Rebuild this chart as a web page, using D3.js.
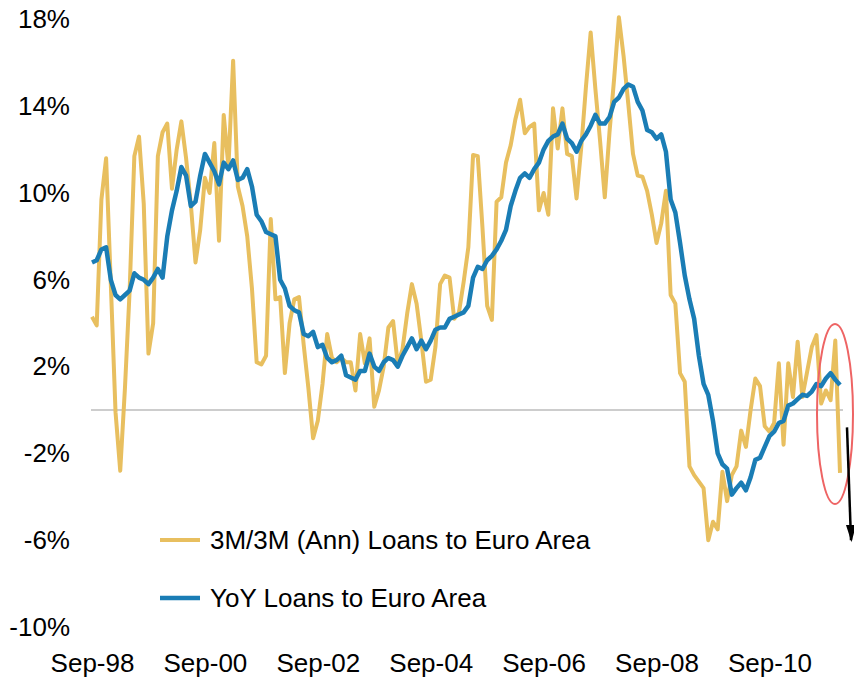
<!DOCTYPE html>
<html>
<head>
<meta charset="utf-8">
<script src="https://cdn.jsdelivr.net/npm/d3@7"></script>
<style>
  html, body { margin: 0; padding: 0; background: #fff; }
  svg { display: block; font-family: "Liberation Sans", Arial, sans-serif; }
</style>
</head>
<body>
<svg id="chart" width="854" height="681"></svg>
<script>
// monthly categories, Sep-98 .. Dec-11
const months = d3.timeMonth.range(new Date(1998, 8, 1), new Date(2012, 0, 1));

// YoY loans to euro area (%)
const yoy = [
  6.8, 6.9, 7.4, 7.5, 6.0, 5.3, 5.1, 5.3, 5.5, 6.3,
  6.1, 6.0, 5.8, 6.1, 6.5, 6.1, 8.0, 9.2, 10.1, 11.2,
  10.8, 9.4, 9.6, 10.8, 11.8, 11.4, 11.0, 10.4, 11.4, 11.1,
  11.5, 10.6, 10.7, 11.1, 10.3, 9.0, 8.7, 8.2, 8.1, 8.0,
  6.0, 5.6, 4.8, 4.6, 4.5, 3.5, 3.4, 3.6, 2.9, 3.0,
  2.4, 2.2, 2.3, 2.5, 1.6, 1.5, 1.4, 1.8, 1.8, 2.6,
  2.0, 1.8, 2.2, 2.4, 2.3, 2.0, 2.5, 2.9, 3.3, 2.8,
  3.2, 2.8, 3.2, 3.7, 3.8, 3.8, 4.2, 4.3, 4.4, 4.5,
  4.8, 6.1, 6.6, 6.5, 6.9, 7.1, 7.4, 7.8, 8.3, 9.4,
  10.1, 10.7, 10.9, 10.7, 11.1, 11.4, 12.0, 12.4, 12.6, 12.7,
  13.2, 12.5, 12.3, 11.9, 12.4, 12.7, 13.1, 13.6, 13.2, 13.2,
  13.5, 14.2, 14.4, 14.8, 15.0, 14.9, 14.2, 13.8, 12.9, 12.8,
  12.5, 12.7, 11.9, 9.7, 9.1, 7.7, 6.2, 5.1, 4.2, 2.5,
  1.2, 0.7, -0.5, -2.0, -2.5, -2.7, -3.9, -3.6, -3.35, -3.7,
  -3.1, -2.3, -2.2, -1.7, -1.2, -1.0, -0.6, -0.5, 0.2, 0.3,
  0.5, 0.7, 0.65, 0.85, 1.2, 1.1, 1.45, 1.7, 1.4, 1.15
];

// 3M/3M annualised loans to euro area (%)
const ann3m = [
  4.3, 3.9, 9.7, 11.6, 5.8, -0.1, -2.8, 1.0, 5.5, 11.7,
  12.6, 9.5, 2.6, 4.0, 11.7, 12.8, 13.2, 10.2, 12.0, 13.3,
  11.6, 9.5, 6.8, 8.3, 10.7, 10.0, 12.3, 7.8, 13.6, 11.2,
  16.1, 10.3, 9.4, 8.0, 5.6, 2.2, 2.1, 2.5, 8.8, 5.1,
  5.2, 1.7, 4.0, 5.1, 5.2, 3.0, 1.0, -1.3, -0.5, 1.2,
  3.5, 2.4, 2.2, 2.4, 2.2, 2.2, 0.9, 3.5, 2.15, 3.3,
  0.15, 0.9, 2.0, 3.8, 4.1, 2.1, 2.8, 4.45, 5.8, 4.9,
  3.2, 1.3, 1.4, 2.9, 5.8, 6.2, 6.1, 4.2, 4.5, 5.9,
  7.5, 11.75, 11.7, 8.4, 4.8, 4.15, 9.6, 9.8, 11.4, 12.2,
  13.4, 14.3, 12.75, 13.05, 13.2, 9.2, 10.0, 9.0, 13.9, 12.05,
  13.9, 11.8, 11.7, 9.75, 12.1, 14.9, 17.4, 14.8, 12.4, 9.8,
  12.8, 15.3, 18.1, 16.3, 14.1, 11.8, 10.8, 10.75, 10.1, 9.0,
  7.7, 8.6, 10.1, 5.3, 4.9, 1.7, 1.3, -2.6, -3.0, -3.3,
  -3.6, -6.0, -5.15, -5.5, -2.85, -4.2, -3.0, -2.6, -0.95, -1.7,
  0.0, 1.45, 1.1, -0.75, -1.0, -0.6, 2.15, -1.6, 2.15, 0.6,
  3.15, 0.6, 1.75, 2.9, 3.45, 0.3, 0.9, 0.45, 3.2, -2.9
];

const yTicks = [-10, -6, -2, 2, 6, 10, 14, 18];
const xTickMonths = [1998, 2000, 2002, 2004, 2006, 2008, 2010].map(yr => new Date(yr, 8, 1));

const seriesNames = ["3M/3M (Ann) Loans to Euro Area", "YoY Loans to Euro Area"];
const gold = "#E8BF5F";
const blue = "#1A7DB5";

const svg = d3.select('#chart');

const x = d3.scalePoint()
    .domain(months)
    .range([92, 840]);

const y = d3.scaleLinear()
    .domain([-10, 18])
    .range([627, 19.4]);

// zero line
svg.append('line')
    .attr('x1', 91).attr('x2', 843)
    .attr('y1', y(0)).attr('y2', y(0))
    .attr('stroke', '#bdbdbd')
    .attr('stroke-width', 1.5);

const line = d3.line()
    .x((d, i) => x(months[i]))
    .y(d => y(d));

svg.append('path')
    .datum(ann3m)
    .attr('fill', 'none')
    .attr('stroke', gold)
    .attr('stroke-width', 4)
    .attr('stroke-linejoin', 'round')
    .attr('d', line);

svg.append('path')
    .datum(yoy)
    .attr('fill', 'none')
    .attr('stroke', blue)
    .attr('stroke-width', 4.5)
    .attr('stroke-linejoin', 'round')
    .attr('d', line);

// y axis labels
const yAxis = svg.append('g')
    .attr('transform', 'translate(70,0)')
    .call(d3.axisLeft(y).tickValues(yTicks).tickFormat(d => d + '%').tickSize(0).tickPadding(0));
yAxis.select('.domain').remove();
yAxis.selectAll('text')
    .attr('fill', '#000')
    .style('font-size', '26px')
    .style('font-family', '"Liberation Sans", Arial, sans-serif');

// x axis labels
const xAxis = svg.append('g')
    .attr('transform', 'translate(0,654)')
    .call(d3.axisBottom(x).tickValues(xTickMonths).tickFormat(d3.timeFormat('%b-%y')).tickSize(0).tickPadding(0));
xAxis.select('.domain').remove();
xAxis.selectAll('text')
    .attr('fill', '#000')
    .style('font-size', '26px')
    .style('font-family', '"Liberation Sans", Arial, sans-serif');

// legend
const legend = svg.append('g');
[gold, blue].forEach((c, i) => {
    const ly = 540 + i * 58;
    legend.append('line')
        .attr('x1', 160).attr('x2', 200)
        .attr('y1', ly).attr('y2', ly)
        .attr('stroke', c)
        .attr('stroke-width', i ? 4.5 : 4);
    legend.append('text')
        .attr('x', 210)
        .attr('y', ly)
        .attr('dy', '0.35em')
        .style('font-size', '26px')
        .text(seriesNames[i]);
});

// annotation: red ellipse around latest points, arrow pointing down
const last = months[months.length - 1];
svg.append('ellipse')
    .attr('cx', x(last) - 5)
    .attr('cy', y(0) + 4)
    .attr('rx', 18)
    .attr('ry', 90)
    .attr('fill', 'none')
    .attr('stroke', '#EE6464')
    .attr('stroke-width', 2);

svg.append('defs').append('marker')
    .attr('id', 'arrowhead')
    .attr('viewBox', '0 0 10 10')
    .attr('refX', 5)
    .attr('refY', 10)
    .attr('markerWidth', 4.5)
    .attr('markerHeight', 6)
    .attr('orient', 'auto-start-reverse')
    .append('path')
    .attr('d', 'M0,0L10,0L5,10Z')
    .attr('fill', '#000');

svg.append('line')
    .attr('x1', x(last) + 7).attr('y1', y(-0.8))
    .attr('x2', x(last) + 11).attr('y2', y(-6))
    .attr('stroke', '#000')
    .attr('stroke-width', 2.5);
svg.append('path')
    .attr('d', d3.line()([[x(last) + 6, y(-5.3)], [x(last) + 16, y(-5.3)], [x(last) + 11.5, y(-6.1)]]) + 'Z')
    .attr('fill', '#000');
</script>
</body>
</html>
